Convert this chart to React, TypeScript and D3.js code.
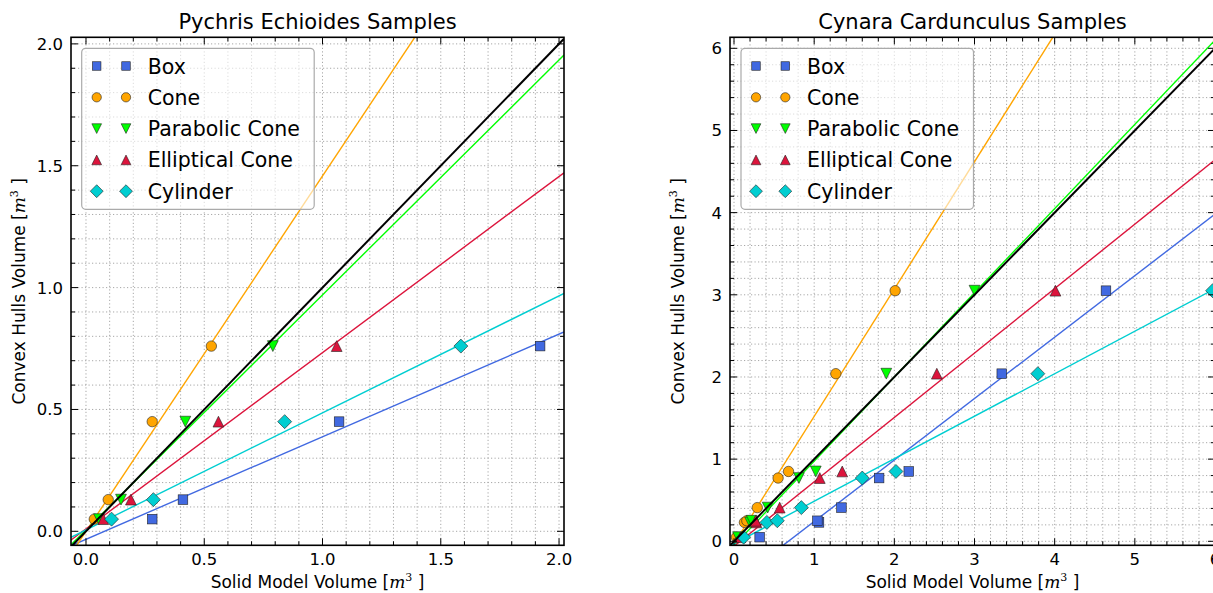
import * as d3 from 'd3';
import React from 'react';

// series shown in both panels
const seriesNames = ['Box', 'Cone', 'Parabolic Cone', 'Elliptical Cone', 'Cylinder'];
const seriesColors = ['#4169E1', '#FFA500', '#00FF00', '#DC143C', '#00CED1'];
const seriesShapes = ['square', 'circle', 'triDown', 'triUp', 'diamond'];

// Pychris Echioides: convex hull volume per sample, solid model volume per model
const pychrisHull = [0.05, 0.13, 0.45, 0.76];
const pychrisBox = [0.28, 0.41, 1.07, 1.92];
const pychrisCone = [0.035, 0.094, 0.28, 0.53];
const pychrisParabolic = [0.055, 0.148, 0.42, 0.79];
const pychrisElliptical = [0.073, 0.19, 0.56, 1.06];
const pychrisCylinder = [0.108, 0.285, 0.84, 1.585];
// fitted lines: slope, intercept
const pychrisSlopes = [0.421, 1.458, 0.964, 0.723, 0.48];
const pychrisIntercepts = [-0.033, 0.0, 0.006, 0.01, 0.006];

// Cynara Cardunculus
const cynaraHull = [0.05, 0.23, 0.25, 0.41, 0.77, 0.85, 2.04, 3.05];
const cynaraBox = [0.32, 1.06, 1.04, 1.34, 1.81, 2.18, 3.34, 4.64];
const cynaraCone = [0.03, 0.13, 0.16, 0.29, 0.55, 0.68, 1.27, 2.01];
const cynaraParabolic = [0.05, 0.2, 0.22, 0.42, 0.81, 1.02, 1.9, 3.0];
const cynaraElliptical = [0.08, 0.28, 0.27, 0.57, 1.07, 1.35, 2.53, 4.01];
const cynaraCylinder = [0.12, 0.41, 0.54, 0.84, 1.6, 2.02, 3.79, 5.97];
const cynaraSlopes = [0.748, 1.55, 1.025, 0.784, 0.5175];
const cynaraIntercepts = [-0.507, -0.03, -0.05, -0.06, -0.03];

const pychrisTicks = [0, 0.5, 1.0, 1.5, 2.0];
const cynaraTicks = [0, 1, 2, 3, 4, 5, 6];

const FONT = '"DejaVu Sans", Verdana, sans-serif';

function marker(shape, x, y, s, color, key) {
  const h = s / 2;
  const common = {fill: color, stroke: '#222', strokeWidth: 0.6, key};
  if (shape === 'square') return <rect {...common} x={x - h} y={y - h} width={s} height={s} />;
  if (shape === 'circle') return <circle {...common} cx={x} cy={y} r={h + 0.4} />;
  if (shape === 'triDown') {
    const r = h + 0.6;
    return <path {...common} d={`M${x - r},${y - r}L${x + r},${y - r}L${x},${y + r}Z`} />;
  }
  if (shape === 'triUp') {
    const r = h + 0.6;
    return <path {...common} d={`M${x - r},${y + r}L${x + r},${y + r}L${x},${y - r}Z`} />;
  }
  const r = h + 2.2;
  return <path {...common} d={`M${x},${y - r}L${x + r},${y}L${x},${y + r}L${x - r},${y}Z`} />;
}

function Panel(props) {
  const {id, title, left, top, width, height, xDomain, yDomain, majors, minorStep, fmt,
    hull, solids, slopes, intercepts, legendX} = props;
  const x = d3.scaleLinear().domain(xDomain).range([left, left + width]);
  const y = d3.scaleLinear().domain(yDomain).range([top + height, top]);
  const minorX = d3.range(Math.ceil(xDomain[0] / minorStep), Math.floor(xDomain[1] / minorStep + 1e-6) + 1).map(i => i * minorStep);
  const minorY = d3.range(Math.ceil(yDomain[0] / minorStep), Math.floor(yDomain[1] / minorStep + 1e-6) + 1).map(i => i * minorStep);
  const bottom = top + height, right = left + width;
  const line = d3.line().x(d => x(d[0])).y(d => y(d[1]));

  const legendTop = 48.3, rowGap = 31.3;

  return (
    <g>
      <defs>
        <clipPath id={id}>
          <rect x={left} y={top} width={width} height={height} />
        </clipPath>
      </defs>
      <text x={left + width / 2} y={29} textAnchor="middle" fontSize={21} fontFamily={FONT}>{title}</text>

      {/* grid */}
      <g stroke="#9e9e9e" strokeWidth={0.9} strokeDasharray="1.2 2.3">
        {minorX.map((v, i) => <line key={'gx' + i} x1={x(v)} x2={x(v)} y1={top} y2={bottom} />)}
        {minorY.map((v, i) => <line key={'gy' + i} x1={left} x2={right} y1={y(v)} y2={y(v)} />)}
      </g>

      <g clipPath={`url(#${id})`}>
        {slopes.map((m, i) => (
          <path key={'fit' + i} d={line([[xDomain[0], intercepts[i] + m * xDomain[0]], [xDomain[1], intercepts[i] + m * xDomain[1]]])}
            fill="none" stroke={seriesColors[i]} strokeWidth={1.4} />
        ))}
        {solids.map((xs, i) => xs.map((v, j) => marker(seriesShapes[i], x(v), y(hull[j]), 9.6, seriesColors[i], `m${i}-${j}`)))}
        <path d={line([[xDomain[0], xDomain[0]], [xDomain[1], xDomain[1]]])} fill="none" stroke="#000" strokeWidth={2} />
      </g>

      {/* ticks */}
      <g stroke="#000" strokeWidth={1}>
        {minorX.map((v, i) => {
          const L = majors.some(t => Math.abs(t - v) < 1e-6) ? 7 : 4;
          return <g key={'tx' + i}>
            <line x1={x(v)} x2={x(v)} y1={bottom} y2={bottom - L} />
            <line x1={x(v)} x2={x(v)} y1={top} y2={top + L} />
          </g>;
        })}
        {minorY.map((v, i) => {
          const L = majors.some(t => Math.abs(t - v) < 1e-6) ? 7 : 4;
          return <g key={'ty' + i}>
            <line x1={left} x2={left + L} y1={y(v)} y2={y(v)} />
            <line x1={right} x2={right - L} y1={y(v)} y2={y(v)} />
          </g>;
        })}
      </g>
      <rect x={left} y={top} width={width} height={height} fill="none" stroke="#000" strokeWidth={1.6} />

      {/* tick labels */}
      <g fontSize={16.5} fontFamily={FONT}>
        {majors.map((t, i) => (
          <text key={'lx' + i} x={x(t)} y={bottom + 20} textAnchor="middle">{fmt(t)}</text>
        ))}
        {majors.map((t, i) => (
          <text key={'ly' + i} x={left - 8} y={y(t) + 6} textAnchor="end">{fmt(t)}</text>
        ))}
      </g>

      {/* axis labels */}
      <text x={left + width / 2} y={588} textAnchor="middle" fontSize={17} fontFamily={FONT}>
        Solid Model Volume [<tspan fontFamily='"DejaVu Serif", serif' fontStyle="italic">m</tspan>
        <tspan dy={-7} fontSize={11} fontFamily='"DejaVu Serif", serif'>3</tspan>
        <tspan dy={7}> ]</tspan>
      </text>
      <text transform={`translate(${left - 46},${top + height / 2}) rotate(-90)`} textAnchor="middle" fontSize={17} fontFamily={FONT}>
        Convex Hulls Volume [<tspan fontFamily='"DejaVu Serif", serif' fontStyle="italic">m</tspan>
        <tspan dy={-7} fontSize={11} fontFamily='"DejaVu Serif", serif'>3</tspan>
        <tspan dy={7}> ]</tspan>
      </text>

      {/* legend */}
      <g>
        <rect x={legendX} y={legendTop} width={232.5} height={161} rx={4} fill="#fff" fillOpacity={0.6} stroke="#aaa" strokeWidth={1.2} />
        {seriesNames.map((name, i) => {
          const cy = legendTop + 17.7 + i * rowGap;
          return <g key={'lg' + i}>
            {marker(seriesShapes[i], legendX + 15, cy, 8.5, seriesColors[i], 'a')}
            {marker(seriesShapes[i], legendX + 44.3, cy, 8.5, seriesColors[i], 'b')}
            <text x={legendX + 66} y={cy + 7.5} fontSize={20.5} fontFamily={FONT}>{name}</text>
          </g>;
        })}
      </g>
    </g>
  );
}

export default function App() {
  return (
    <svg width={1213} height={593} style={{position: 'absolute', left: 0, top: 0, background: '#fff'}}>
      <Panel id="clipL" title="Pychris Echioides Samples"
        left={71} top={37.3} width={493} height={508}
        xDomain={[-0.0634, 2.021]} yDomain={[-0.0574, 2.027]}
        majors={pychrisTicks} minorStep={0.1} fmt={d3.format('.1f')}
        hull={pychrisHull}
        solids={[pychrisBox, pychrisCone, pychrisParabolic, pychrisElliptical, pychrisCylinder]}
        slopes={pychrisSlopes} intercepts={pychrisIntercepts} legendX={81.7} />
      <Panel id="clipR" title="Cynara Cardunculus Samples"
        left={730} top={37.3} width={485} height={508}
        xDomain={[-0.05, 6.0]} yDomain={[-0.0487, 6.134]}
        majors={cynaraTicks} minorStep={0.2} fmt={d3.format('d')}
        hull={cynaraHull}
        solids={[cynaraBox, cynaraCone, cynaraParabolic, cynaraElliptical, cynaraCylinder]}
        slopes={cynaraSlopes} intercepts={cynaraIntercepts} legendX={741} />
    </svg>
  );
}
